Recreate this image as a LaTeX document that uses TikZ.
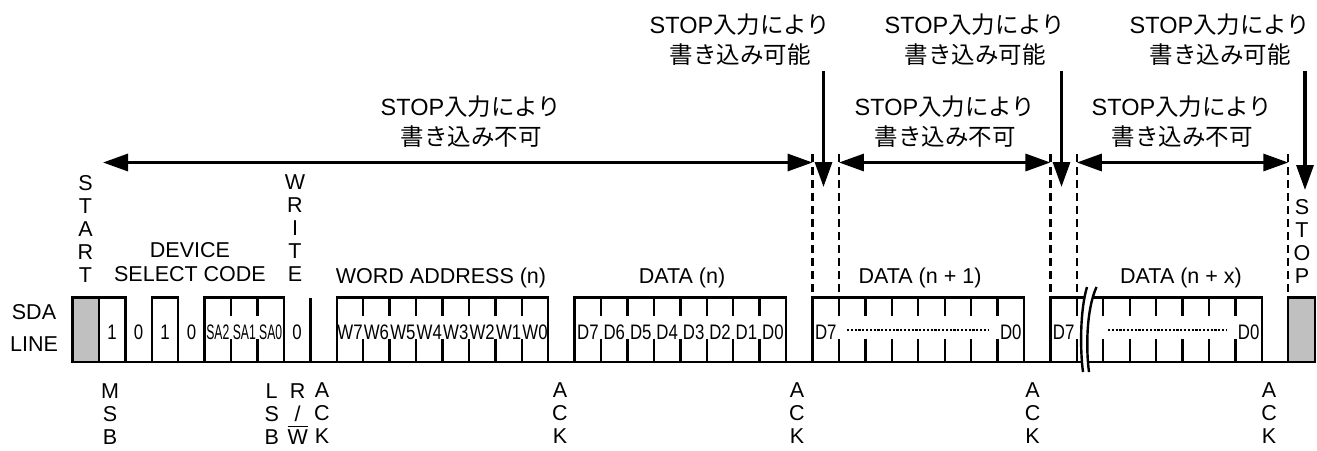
\documentclass[tikz,border=0pt]{standalone}
\usepackage{fontspec}
\setmainfont{Liberation Sans}
\newfontfamily\jp{Noto Sans CJK JP}
\usepackage{graphicx}
\usetikzlibrary{arrows.meta}
\definecolor{boxgrey}{RGB}{192,192,192}
\newcommand\bx[1]{72.5+26.43*(#1)}
\newcommand\nw[1]{\scalebox{0.8}[1]{#1}}
\newcommand\nws[1]{\scalebox{0.58}[1]{#1}}
\tikzset{
  wave/.style={line width=1.2pt, line join=miter},
  dashv/.style={line width=1.2pt, dash pattern=on 4pt off 2.5pt},
  dotln/.style={line width=1.4pt, dash pattern=on 1.1pt off 0.8pt},
  bigarrow/.style={line width=1.6pt, {Triangle[length=12.5pt,width=8.5pt]}-{Triangle[length=12.5pt,width=8.5pt]}},
  downarrow/.style={line width=1.6pt, -{Triangle[length=12.5pt,width=8.5pt]}},
  lbl/.style={font=\fontsize{10.75}{11.5}\selectfont, inner sep=0pt, align=center},
  jplbl/.style={font=\fontsize{11.75}{15}\selectfont, inner sep=0pt, align=center},
  cell/.style={font=\fontsize{10.5}{11}\selectfont, inner sep=0pt},
}
\begin{document}
\begin{tikzpicture}[x=0.5pt,y=-0.5pt]
\useasboundingbox (0,0) rectangle (1317,450);
\def\yt{297.5}
\def\yb{362}
% baseline
\draw[wave] ({\bx{0}},\yb) -- ({\bx{47}},\yb);
% START / STOP boxes
\draw[wave, fill=boxgrey] ({\bx{0}},\yt) rectangle ({\bx{1}},\yb);
\draw[wave, fill=boxgrey] ({\bx{46}},\yt) rectangle ({\bx{47}},\yb);
% high boxes
\foreach \a/\b in {1/2,3/4,5/8,10/18,19/27,28/36,37/45}
  \draw[wave] ({\bx{\a}},\yb) rectangle ({\bx{\b}},\yt);
\draw[wave] ({\bx{9}},\yt) -- ({\bx{9}},\yb);
% broken ticks
\foreach \k in {6,7,11,12,13,14,15,16,17,20,21,22,23,24,25,26,29,30,31,32,33,34,35,38,39,40,41,42,43,44}{
  \draw[wave] ({\bx{\k}},\yt) -- ({\bx{\k}},316);
  \draw[wave] ({\bx{\k}},339) -- ({\bx{\k}},\yb);
}
% break symbol
\fill[white] (1087,287) .. controls (1080,310) and (1080,350) .. (1083,372)
  -- (1089,372) .. controls (1086,350) and (1086,310) .. (1096.5,287) -- cycle;
\draw[line width=1.2pt] (1087,287) .. controls (1080,310) and (1080,350) .. (1083,372);
\draw[line width=1.2pt] (1096.5,287) .. controls (1086,310) and (1086,350) .. (1089,372);
% dotted runs
\draw[dotln] (847,330) -- (989,330);
\draw[dotln] (1108,330) -- (1226,330);
% cell labels
\node[cell] (b1) at ({\bx{1.5}},332.5) {\nw{1}};
\node[cell] (b2) at ({\bx{2.5}},332.5) {\nw{0}};
\node[cell] (b3) at ({\bx{3.5}},332.5) {\nw{1}};
\node[cell] (b4) at ({\bx{4.5}},332.5) {\nw{0}};
\node[cell] (sa2) at ({\bx{5.5}},332.5) {\nws{SA2}};
\node[cell] (sa1) at ({\bx{6.5}},332.5) {\nws{SA1}};
\node[cell] (sa0) at ({\bx{7.5}},332.5) {\nws{SA0}};
\node[cell] (rw) at ({\bx{8.5}},332.5) {\nw{0}};
\foreach \i in {0,...,7}{
  \pgfmathtruncatemacro\wn{7-\i}
  \node[cell] (w\wn) at ({\bx{10.5+\i}},332.5) {\nw{W\wn}};
  \node[cell] (d\wn) at ({\bx{19.5+\i}},332.5) {\nw{D\wn}};
}
\node[cell] (e7) at ({\bx{28.5}},332.5) {\nw{D7}};
\node[cell] (e0) at ({\bx{35.5}},332.5) {\nw{D0}};
\node[cell] (f7) at ({\bx{37.5}},332.5) {\nw{D7}};
\node[cell] (f0) at ({\bx{44.5}},332.5) {\nw{D0}};
% side label
\node[lbl, font=\fontsize{10.75}{16}\selectfont] (sda) at (34,327.5) {SDA\\LINE};
% top labels
\node[lbl] (start) at (85.5,229) {S\\T\\A\\R\\T};
\node[lbl] (write) at (295,228) {W\\R\\I\\T\\E};
\node[lbl, font=\fontsize{10.75}{12}\selectfont] (dsc) at (190,262.5) {DEVICE\\SELECT CODE};
\node[lbl, anchor=base] (wa) at (441,283) {WORD ADDRESS (n)};
\node[lbl, anchor=base] (dn) at (682,283) {DATA (n)};
\node[lbl, anchor=base] (dn1) at (920,283) {DATA (n + 1)};
\node[lbl, anchor=base] (dnx) at (1181,283) {DATA (n + x)};
\node[lbl] (stop) at (1302,241.5) {S\\T\\O\\P};
% bottom labels
\node[lbl] (msb) at (110,414) {M\\S\\B};
\node[lbl] (lsb) at (271.7,414) {L\\S\\B};
\node[lbl] (rwl) at (297.7,414) {R\\/\\$\overline{\hbox{W}}$};
\node[lbl] (ack1) at (322,413) {A\\C\\K};
\node[lbl] (ack2) at (560,413) {A\\C\\K};
\node[lbl] (ack3) at (797,413) {A\\C\\K};
\node[lbl] (ack4) at (1032.5,413) {A\\C\\K};
\node[lbl] (ack5) at (1269,413) {A\\C\\K};
% dashed markers
\foreach \k in {28,29,37,38,46}
  \draw[dashv] ({\bx{\k}},154) -- ({\bx{\k}},\yt);
% horizontal arrows
\coordinate (h1a) at (103,162.5);
\coordinate (h1b) at ({\bx{28}},162.5);
\coordinate (h2a) at ({\bx{29}},162.5);
\coordinate (h2b) at ({\bx{37}},162.5);
\coordinate (h3a) at ({\bx{38}},162.5);
\coordinate (h3b) at ({\bx{46}},162.5);
\draw[bigarrow] (h1a) -- (h1b);
\draw[bigarrow] (h2a) -- (h2b);
\draw[bigarrow] (h3a) -- (h3b);
% down arrows
\coordinate (v1a) at (823.5,71);
\coordinate (v1b) at (823.5,187);
\coordinate (v2a) at (1061.5,71);
\coordinate (v2b) at (1061.5,187);
\coordinate (v3a) at (1305,71);
\coordinate (v3b) at (1305,190);
\draw[downarrow] (v1a) -- (v1b);
\draw[downarrow] (v2a) -- (v2b);
\draw[downarrow] (v3a) -- (v3b);
% Japanese labels
\node[jplbl] (ok1) at (740,40) {STOP{\jp 入力により}\\{\jp 書き込み可能}};
\node[jplbl] (ok2) at (975,40) {STOP{\jp 入力により}\\{\jp 書き込み可能}};
\node[jplbl] (ok3) at (1220,40) {STOP{\jp 入力により}\\{\jp 書き込み可能}};
\node[jplbl] (ng1) at (471,122) {STOP{\jp 入力により}\\{\jp 書き込み不可}};
\node[jplbl] (ng2) at (945,122) {STOP{\jp 入力により}\\{\jp 書き込み不可}};
\node[jplbl] (ng3) at (1182,122) {STOP{\jp 入力により}\\{\jp 書き込み不可}};
\end{tikzpicture}
\end{document}
